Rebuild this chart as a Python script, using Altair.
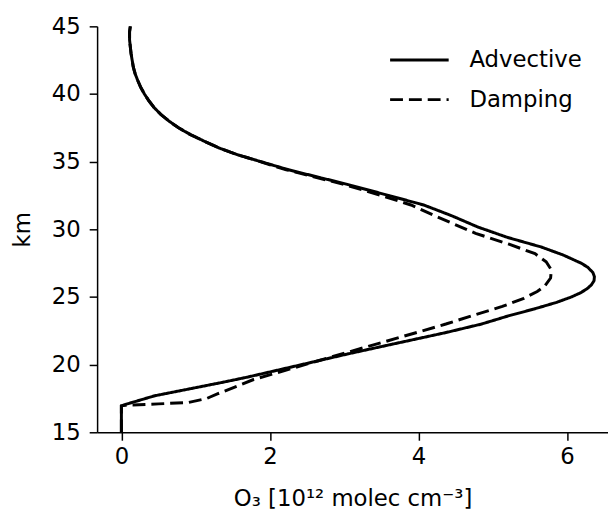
import altair as alt
import pandas as pd

# Advective profile (km, O3 in 1e12 molec/cm3)
adv_km = [15.0, 16.0, 16.95, 17.05, 17.7, 18.7, 19.08, 19.75, 20.78, 21.5, 22.37, 23.0, 23.6,
          24.1, 24.6, 25.0, 25.3, 25.6, 25.9, 26.2, 26.5, 26.8, 27.2, 27.5, 28.1, 28.7,
          29.4, 30.17, 31.0, 31.8, 32.5, 33.34, 34.4, 35.29, 35.5, 36.0, 36.5, 37.0, 37.5,
          38.0, 38.5, 39.0, 39.5, 40.0, 40.5, 41.0, 41.5, 42.0, 43.0, 44.0, 44.6, 45.0]
adv_o3 = [0.0, 0.0, 0.0, 0.05, 0.45, 1.37, 1.70, 2.23, 3.04, 3.64, 4.37, 4.85, 5.21,
          5.55, 5.86, 6.06, 6.18, 6.27, 6.33, 6.365, 6.37, 6.35, 6.28, 6.19, 5.95, 5.65,
          5.2, 4.8, 4.45, 4.07, 3.6, 3.03, 2.25, 1.70, 1.57, 1.32, 1.12, 0.93, 0.77,
          0.64, 0.53, 0.44, 0.37, 0.31, 0.26, 0.22, 0.185, 0.16, 0.13, 0.11, 0.11, 0.12]

# Damping profile
dmp_km = [15.0, 16.0, 16.95, 17.0, 17.1, 17.2, 17.5, 17.85, 18.5, 18.9, 19.6, 20.9, 22.0,
          23.0, 23.7, 24.3, 24.9, 25.4, 25.8, 26.4, 27.0, 27.6, 28.2, 28.9, 29.7, 31.0,
          31.8, 32.5, 33.34, 34.4, 35.29, 35.5, 36.0, 36.5, 37.0, 37.5, 38.0, 38.5,
          39.0, 39.5, 40.0, 40.5, 41.0, 41.5, 42.0, 43.0, 44.0, 44.6, 45.0]
dmp_o3 = [0.0, 0.0, 0.0, 0.05, 0.5, 0.9, 1.15, 1.30, 1.60, 1.78, 2.22, 3.04, 3.74,
          4.37, 4.77, 5.13, 5.42, 5.6, 5.70, 5.78, 5.79, 5.72, 5.57, 5.22, 4.77, 4.22,
          3.9, 3.5, 2.98, 2.22, 1.70, 1.57, 1.32, 1.12, 0.93, 0.77, 0.64, 0.53,
          0.44, 0.37, 0.31, 0.26, 0.22, 0.185, 0.16, 0.13, 0.11, 0.11, 0.12]

series = ["Advective", "Damping"]
x_ticks = [0, 2, 4, 6]
y_ticks = [15, 20, 25, 30, 35, 40, 45]

rows = []
for i, (k, v) in enumerate(zip(adv_km, adv_o3)):
    rows.append({"series": series[0], "km": k, "o3": v, "idx": i})
for i, (k, v) in enumerate(zip(dmp_km, dmp_o3)):
    rows.append({"series": series[1], "km": k, "o3": v, "idx": i})
df = pd.DataFrame(rows)

FONT = "DejaVu Sans"
FS = 23

chart = alt.Chart(df).mark_line(strokeWidth=3, color="black").encode(
    x=alt.X("o3:Q",
            scale=alt.Scale(domain=[-0.327, 6.553], nice=False, zero=False),
            axis=alt.Axis(values=x_ticks, title="O₃ [10¹² molec cm⁻³]", format="d",
                          titlePadding=19)),
    y=alt.Y("km:Q",
            scale=alt.Scale(domain=[15, 45], nice=False, zero=False),
            axis=alt.Axis(values=y_ticks, title="km", titlePadding=17)),
    strokeDash=alt.StrokeDash(
        "series:N",
        scale=alt.Scale(domain=series, range=[[1, 0], [13, 6]]),
        legend=alt.Legend(title=None, orient="none", legendX=294, legendY=22,
                          symbolType="stroke", symbolStrokeColor="black",
                          symbolStrokeWidth=3, symbolSize=3500,
                          clipHeight=24, rowPadding=16,
                          labelFontSize=FS, labelFont=FONT, labelColor="black",
                          labelOffset=19),
    ),
    order=alt.Order("idx:Q"),
).properties(
    width=516,
    height=410,
    autosize=alt.AutoSizeParams(type="none"),
    padding={"left": 90, "top": 16, "right": 0, "bottom": 80},
).configure_view(
    stroke=None
).configure_axis(
    grid=False,
    domainColor="black",
    domainWidth=1.5,
    tickColor="black",
    tickWidth=1.5,
    tickSize=8,
    labelFont=FONT,
    labelFontSize=FS,
    labelColor="black",
    labelPadding=6,
    titleFont=FONT,
    titleFontSize=FS,
    titleFontWeight="normal",
    titleColor="black",
).configure_axisY(
    labelPadding=9,
)

chart.save("out.html", embed_options={"renderer": "svg", "actions": False})
